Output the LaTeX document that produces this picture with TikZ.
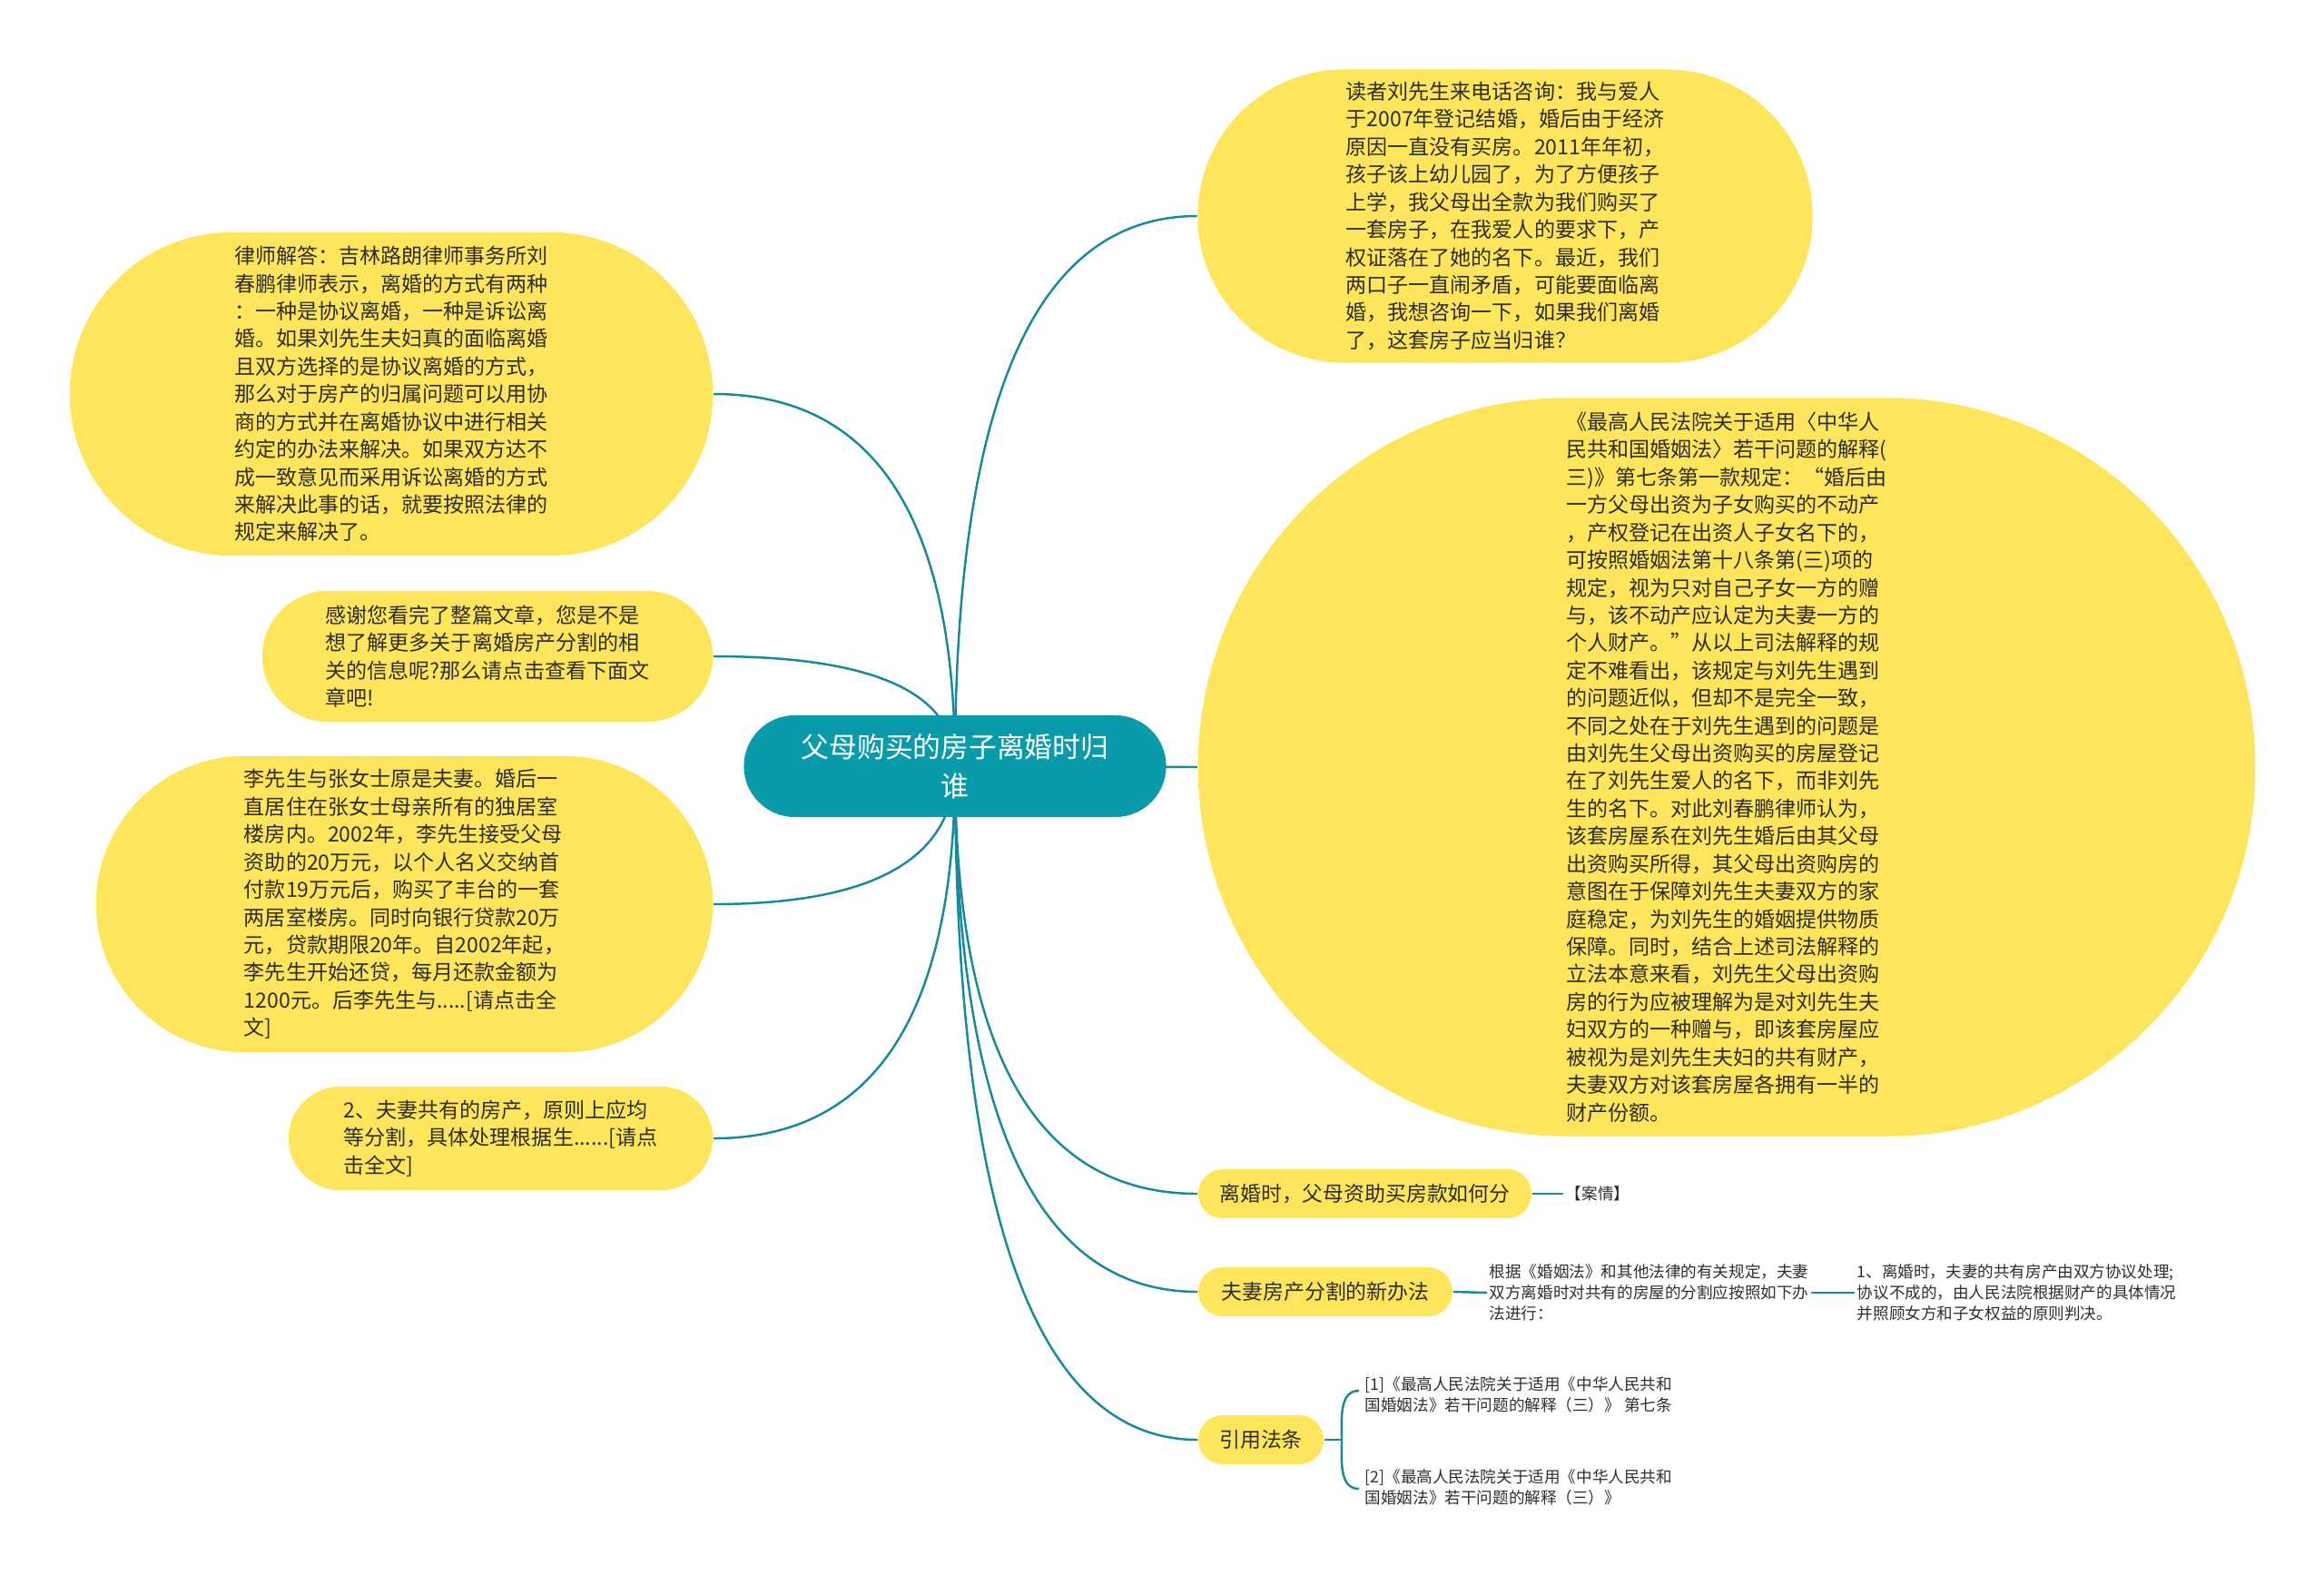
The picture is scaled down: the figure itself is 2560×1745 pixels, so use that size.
\documentclass[tikz,border=0pt]{standalone}
\usepackage{fontspec}
\setmainfont{Noto Sans CJK SC}
\usetikzlibrary{shapes.misc,backgrounds,calc}
\definecolor{topicyellow}{HTML}{FFE55C}
\definecolor{rootteal}{HTML}{0A9BAA}
\definecolor{branchteal}{HTML}{16899A}
\definecolor{inkgray}{HTML}{2E2E2E}

\begin{document}
\begin{tikzpicture}[x=0.01cm, y=-0.01cm,
    root/.style={rounded rectangle, fill=rootteal, text=white, inner xsep=0pt, inner ysep=0pt, align=center, font=\fontsize{8.75}{12.2}\selectfont},
    topic/.style 2 args={rectangle, fill=topicyellow, text=inkgray, inner sep=0pt, minimum width=#1, minimum height=#2, rounded corners=0.5*#2, align=left, font=\fontsize{6.55}{8.65}\selectfont},
    subtopic/.style={rounded rectangle, fill=topicyellow, text=inkgray, inner xsep=0pt, inner ysep=0pt, minimum height=0.54cm, font=\fontsize{6.5}{8}\selectfont},
    leaf/.style={anchor=west, text=inkgray, inner sep=0.6pt, align=left, font=\fontsize{5}{6.5}\selectfont},
    branch/.style={draw=branchteal, line width=0.7pt}]
  \useasboundingbox (0,0) rectangle (2560,1745);
  \node[root, minimum width=4.65cm, minimum height=1.12cm] (root) at (1052,844) {父母购买的房子离婚时归\\谁};
  \node[topic={6.77cm}{3.23cm}] (question) at (1658,238) {读者刘先生来电话咨询：我与爱人\\于2007年登记结婚，婚后由于经济\\原因一直没有买房。2011年年初，\\孩子该上幼儿园了，为了方便孩子\\上学，我父母出全款为我们购买了\\一套房子，在我爱人的要求下，产\\权证落在了她的名下。最近，我们\\两口子一直闹矛盾，可能要面临离\\婚，我想咨询一下，如果我们离婚\\了，这套房子应当归谁？};
  \node[topic={11.64cm}{8.13cm}] (analysis) at (1902,845) {《最高人民法院关于适用〈中华人\\民共和国婚姻法〉若干问题的解释(\\三)》第七条第一款规定：“婚后由\\一方父母出资为子女购买的不动产\\，产权登记在出资人子女名下的，\\可按照婚姻法第十八条第(三)项的\\规定，视为只对自己子女一方的赠\\与，该不动产应认定为夫妻一方的\\个人财产。”从以上司法解释的规\\定不难看出，该规定与刘先生遇到\\的问题近似，但却不是完全一致，\\不同之处在于刘先生遇到的问题是\\由刘先生父母出资购买的房屋登记\\在了刘先生爱人的名下，而非刘先\\生的名下。对此刘春鹏律师认为，\\该套房屋系在刘先生婚后由其父母\\出资购买所得，其父母出资购房的\\意图在于保障刘先生夫妻双方的家\\庭稳定，为刘先生的婚姻提供物质\\保障。同时，结合上述司法解释的\\立法本意来看，刘先生父母出资购\\房的行为应被理解为是对刘先生夫\\妇双方的一种赠与，即该套房屋应\\被视为是刘先生夫妇的共有财产，\\夫妻双方对该套房屋各拥有一半的\\财产份额。};
  \node[topic={7.08cm}{3.56cm}] (lawyer) at (431,434) {律师解答：吉林路朗律师事务所刘\\春鹏律师表示，离婚的方式有两种\\：一种是协议离婚，一种是诉讼离\\婚。如果刘先生夫妇真的面临离婚\\且双方选择的是协议离婚的方式，\\那么对于房产的归属问题可以用协\\商的方式并在离婚协议中进行相关\\约定的办法来解决。如果双方达不\\成一致意见而采用诉讼离婚的方式\\来解决此事的话，就要按照法律的\\规定来解决了。};
  \node[topic={4.96cm}{1.44cm}] (thanks) at (537,723) {感谢您看完了整篇文章，您是不是\\想了解更多关于离婚房产分割的相\\关的信息呢?那么请点击查看下面文\\章吧!};
  \node[topic={6.79cm}{3.26cm}] (casestory) at (445.5,996) {李先生与张女士原是夫妻。婚后一\\直居住在张女士母亲所有的独居室\\楼房内。2002年，李先生接受父母\\资助的20万元，以个人名义交纳首\\付款19万元后，购买了丰台的一套\\两居室楼房。同时向银行贷款20万\\元，贷款期限20年。自2002年起，\\李先生开始还贷，每月还款金额为\\1200元。后李先生与.....[请点击全\\文]};
  \node[topic={4.67cm}{1.14cm}] (sharing) at (551.5,1254) {2、夫妻共有的房产，原则上应均\\等分割，具体处理根据生......[请点\\击全文]};
  \node[subtopic, minimum width=3.67cm] (funding) at (1503.5,1315) {离婚时，父母资助买房款如何分};
  \node[subtopic, minimum width=2.80cm] (newrule) at (1460,1423) {夫妻房产分割的新办法};
  \node[subtopic, minimum width=1.38cm] (citelaw) at (1389,1586) {引用法条};
  \node[leaf] (caseinfo) at (1722,1315) {【案情】};
  \node[leaf] (basis) at (1638,1424) {根据《婚姻法》和其他法律的有关规定，夫妻\\双方离婚时对共有的房屋的分割应按照如下办\\法进行：};
  \node[leaf] (firstrule) at (2043,1424) {1、离婚时，夫妻的共有房产由双方协议处理;\\协议不成的，由人民法院根据财产的具体情况\\并照顾女方和子女权益的原则判决。};
  \node[leaf] (citeone) at (1501,1536) {[1]《最高人民法院关于适用《中华人民共和\\国婚姻法》若干问题的解释（三）》 第七条};
  \node[leaf] (citetwo) at (1501,1638) {[2]《最高人民法院关于适用《中华人民共和\\国婚姻法》若干问题的解释（三）》};
  \coordinate (bracemid) at (1478,1586);
  \coordinate (bracetop) at (1497,1532);
  \coordinate (bracebot) at (1497,1640);
  \begin{scope}[on background layer]
    \foreach \target/\side in {question/west, lawyer/east, thanks/east, casestory/east, sharing/east, funding/west, newrule/west, citelaw/west} {
      \coordinate (bend) at (root.center |- \target.\side);
      \draw[branch] (root.center) .. controls ($(root.center)!0.667!(bend)$) and ($(\target.\side)!0.667!(bend)$) .. (\target.\side);
    }
    \draw[branch] (root.center) -- (analysis.west);
  \end{scope}
  \draw[branch] (funding.east) -- (caseinfo.west);
  \draw[branch] (newrule.east) -- (basis.west);
  \draw[branch] (basis.east) -- (firstrule.west);
  \draw[branch] (citelaw.east) -- (bracemid);
  \draw[branch] (bracetop) to[out=180,in=90] (bracemid) to[out=-90,in=180] (bracebot);
\end{tikzpicture}
\end{document}
